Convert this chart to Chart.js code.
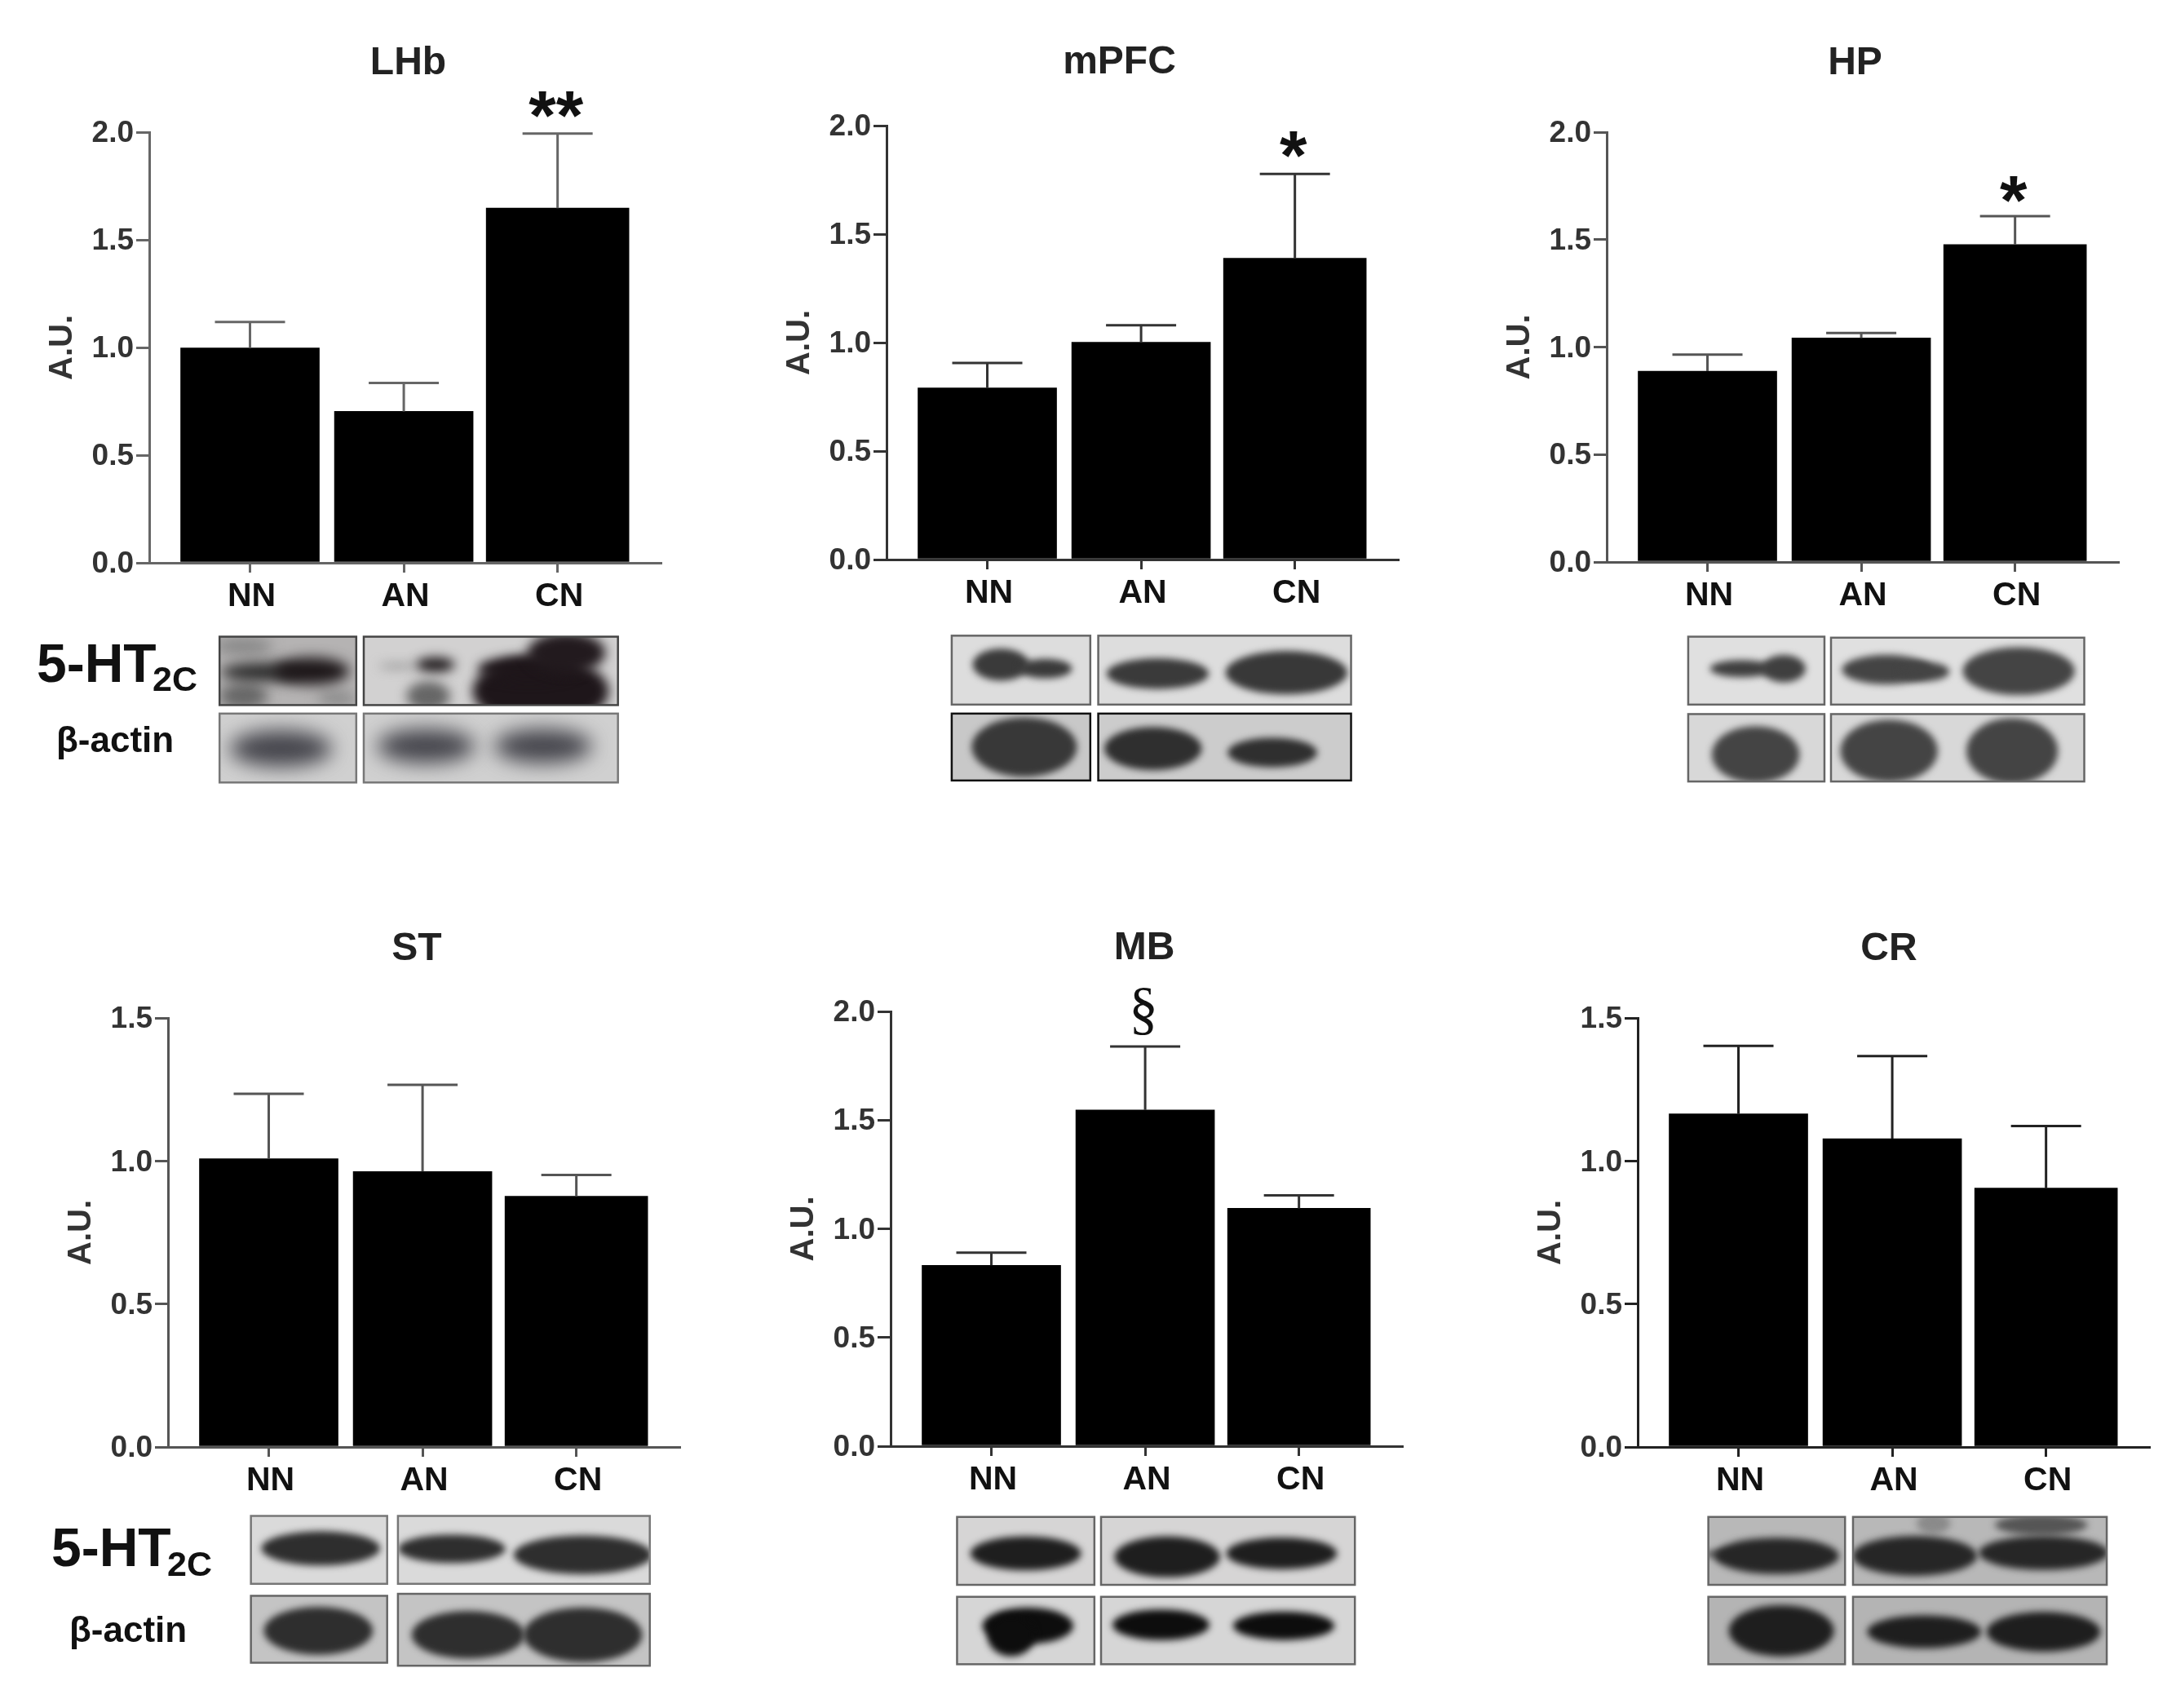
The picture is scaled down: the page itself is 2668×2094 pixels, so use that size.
<!DOCTYPE html>
<html>
<head>
<meta charset="utf-8">
<script src="https://cdn.jsdelivr.net/npm/chart.js@4"></script>
<style>
    html, body { margin: 0; padding: 0; background: #fff; }
    #page { position: relative; width: 2668px; height: 2094px; overflow: hidden; filter: blur(0.7px); }
    #page canvas { position: absolute; }
    .side-label { position: absolute; font-family: "Liberation Sans", Arial, sans-serif; font-weight: bold; color: #111; line-height: 1; white-space: nowrap; }
</style>
</head>
<body>
<div id="page"><canvas id="blots" width="2668" height="2094" style="left:0;top:0"></canvas></div>
<script>
// Chart data
const categories = ['NN', 'AN', 'CN'];
const panelNames = ['LHb', 'mPFC', 'HP', 'ST', 'MB', 'CR'];

const lhbValues = [0.998, 0.703, 1.647];
const lhbErrors = [1.118, 0.835, 1.993];
const mpfcValues = [0.791, 1.002, 1.389];
const mpfcErrors = [0.906, 1.080, 1.777];
const hpValues = [0.888, 1.042, 1.477];
const hpErrors = [0.965, 1.065, 1.609];
const stValues = [1.008, 0.963, 0.877];
const stErrors = [1.235, 1.266, 0.951];
const mbValues = [0.832, 1.547, 1.094];
const mbErrors = [0.890, 1.839, 1.154];
const crValues = [1.165, 1.078, 0.905];
const crErrors = [1.402, 1.367, 1.122];

const panelValues = [lhbValues, mpfcValues, hpValues, stValues, mbValues, crValues];
const panelErrors = [lhbErrors, mpfcErrors, hpErrors, stErrors, mbErrors, crErrors];
const panelMax = [2, 2, 2, 1.5, 2, 1.5];

// Layout of each panel: plot left, top, width, height, title centre x and y, axis colour
const panelLayout = [
    { left: 182.5, top: 162, width: 627, height: 528, titleX: 500, titleY: 78, axis: '#666' },
    { left: 1086.5, top: 154, width: 627, height: 532, titleX: 1372, titleY: 77, axis: '#333' },
    { left: 1969.5, top: 162, width: 627, height: 527, titleX: 2274, titleY: 78, axis: '#555' },
    { left: 206, top: 1247.5, width: 627, height: 526.5, titleX: 511, titleY: 1163, axis: '#555' },
    { left: 1092, top: 1240, width: 627, height: 533, titleX: 1403, titleY: 1163, axis: '#333' },
    { left: 2008, top: 1247.5, width: 627, height: 526.5, titleX: 2316, titleY: 1163, axis: '#222' }
];

// Significance marks above the error bars
const panelMarks = [
    { text: '**', cat: 2, dy: 7, font: 'bold 86px "Liberation Sans"' },
    { text: '*', cat: 2, dy: 7, font: 'bold 86px "Liberation Sans"' },
    { text: '*', cat: 2, dy: 10, font: 'bold 86px "Liberation Sans"' },
    null,
    { text: '§', cat: 1, dy: -23, font: '72px "Liberation Serif"' },
    null
];

const GUTTER_LEFT = 160;
const GUTTER_TOP = 130;
const GUTTER_RIGHT = 20;
const GUTTER_BOTTOM = 80;

// Draws the error bars, the significance marks and the panel title
const panelExtras = {
    id: 'panelExtras',
    afterDatasetsDraw(chart, args, opts) {
        const ctx = chart.ctx;
        const x = chart.scales.x;
        const y = chart.scales.y;
        ctx.save();
        ctx.strokeStyle = opts.color;
        ctx.lineWidth = 3;
        opts.errors.forEach((err, i) => {
            const px = x.getPixelForValue(i + 1);
            const topY = y.getPixelForValue(err);
            ctx.beginPath();
            ctx.moveTo(px, y.getPixelForValue(opts.values[i]));
            ctx.lineTo(px, topY);
            ctx.moveTo(px - 43, topY);
            ctx.lineTo(px + 43, topY);
            ctx.stroke();
        });
        ctx.fillStyle = '#111';
        ctx.textAlign = 'center';
        ctx.textBaseline = 'alphabetic';
        if (opts.mark) {
            ctx.font = opts.mark.font;
            ctx.fillText(opts.mark.text, x.getPixelForValue(opts.mark.cat + 1) - 2, y.getPixelForValue(opts.errors[opts.mark.cat]) + opts.mark.dy);
        }
        ctx.fillStyle = '#222';
        ctx.textBaseline = 'middle';
        ctx.font = 'bold 48px "Liberation Sans"';
        ctx.fillText(opts.title, opts.titleX, opts.titleY);
        ctx.restore();
    }
};

function buildPanel(index) {
    const box = panelLayout[index];
    const values = panelValues[index];
    const canvas = document.createElement('canvas');
    canvas.width = GUTTER_LEFT + box.width + GUTTER_RIGHT;
    canvas.height = GUTTER_TOP + box.height + GUTTER_BOTTOM;
    canvas.style.left = (box.left - GUTTER_LEFT) + 'px';
    canvas.style.top = (box.top - GUTTER_TOP) + 'px';
    document.getElementById('page').appendChild(canvas);

    new Chart(canvas.getContext('2d'), {
        type: 'bar',
        data: {
            datasets: categories.map((name, i) => ({
                label: name,
                data: [{ x: i + 1, y: values[i] }],
                backgroundColor: '#000',
                grouped: false,
                barThickness: i === 2 ? 175 : 170
            }))
        },
        options: {
            responsive: false,
            animation: false,
            layout: { padding: { top: GUTTER_TOP, right: GUTTER_RIGHT, left: 0, bottom: 0 } },
            plugins: {
                legend: { display: false },
                tooltip: { enabled: false },
                panelExtras: {
                    values: values,
                    errors: panelErrors[index],
                    mark: panelMarks[index],
                    color: box.axis,
                    title: panelNames[index],
                    titleX: box.titleX - (box.left - GUTTER_LEFT),
                    titleY: box.titleY - (box.top - GUTTER_TOP)
                }
            },
            scales: {
                x: {
                    type: 'linear',
                    offset: false,
                    min: 0.345,
                    max: 3.67,
                    afterBuildTicks: scale => { scale.ticks = categories.map((c, i) => ({ value: i + 1 })); },
                    afterFit: scale => { scale.height = GUTTER_BOTTOM; },
                    grid: { offset: false, drawOnChartArea: false, color: box.axis, lineWidth: 3, tickLength: 12 },
                    border: { color: box.axis, width: 3 },
                    ticks: {
                        autoSkip: false,
                        maxRotation: 0,
                        padding: 5,
                        labelOffset: 2,
                        color: '#111',
                        font: { family: '"Liberation Sans"', weight: 'bold', size: 41 },
                        callback: value => categories[value - 1]
                    }
                },
                y: {
                    min: 0,
                    max: panelMax[index],
                    afterFit: scale => { scale.width = GUTTER_LEFT; },
                    grid: { drawOnChartArea: false, color: box.axis, lineWidth: 3, tickLength: 16 },
                    border: { color: box.axis, width: 3 },
                    title: {
                        display: true,
                        text: 'A.U.',
                        color: '#333',
                        padding: { top: 30, bottom: 0 },
                        font: { family: '"Liberation Sans"', weight: 'bold', size: 40 }
                    },
                    ticks: {
                        stepSize: 0.5,
                        padding: 3,
                        labelOffset: 2,
                        color: '#333',
                        font: { family: '"Liberation Sans"', weight: 'bold', size: 37 },
                        callback: value => value.toFixed(1)
                    }
                }
            }
        },
        plugins: [panelExtras]
    });
}

// Western blot strips, in crop coordinates: box corners, background, bands [cx, cy, rx, ry, colour]
const blotCrops = [
    { ox: 0, oy: 30, kx: 0.574, boxes: [
        { r: [469, 1226, 761, 1363], bg: '#b5b3b3', border: '#444', blur: 8, bands: [[520, 1245, 60, 15, '#888'], [520, 1345, 50, 22, '#666'], [720, 1350, 40, 12, '#888'], [560, 1297, 85, 16, '#2c2c2c'], [665, 1295, 78, 24, '#1e181a']] },
        { r: [777, 1226, 1320, 1363], bg: '#d2d1d1', border: '#444', blur: 7, bands: [[850, 1285, 40, 4, '#888'], [930, 1282, 40, 13, '#1f1a1c'], [915, 1345, 45, 26, '#666'], [1155, 1335, 140, 60, '#1e161a'], [1130, 1290, 105, 22, '#1e161a'], [1210, 1258, 80, 36, '#221a1e']] },
        { r: [469, 1380, 761, 1518], bg: '#d0d0d0', border: '#777', blur: 12, bands: [[600, 1450, 105, 32, '#45454c']] },
        { r: [777, 1380, 1320, 1518], bg: '#d0d0d0', border: '#777', blur: 12, bands: [[910, 1445, 100, 30, '#45454c'], [1160, 1445, 100, 30, '#45454c']] }
    ] },
    { ox: 900, oy: 30, kx: 0.574, boxes: [
        { r: [465, 1224, 761, 1362], bg: '#dddddd', border: '#666', bands: [[570, 1282, 58, 28, '#3a3a3a'], [665, 1290, 55, 17, '#3a3a3a']] },
        { r: [778, 1224, 1318, 1362], bg: '#dddddd', border: '#666', bands: [[905, 1300, 105, 27, '#3a3a3a'], [1180, 1298, 125, 38, '#383838']] },
        { r: [465, 1380, 761, 1514], bg: '#c8c8c8', border: '#111', bands: [[620, 1447, 108, 52, '#383838']] },
        { r: [778, 1380, 1318, 1514], bg: '#cccccc', border: '#111', bands: [[895, 1450, 100, 38, '#2f2f2f'], [1150, 1458, 92, 26, '#2f2f2f']] }
    ] },
    { ox: 1768, oy: 30, kx: 0.574, boxes: [
        { r: [526, 1226, 817, 1362], bg: '#e0e0e0', border: '#666', bands: [[640, 1290, 65, 15, '#3f3f3f'], [730, 1290, 45, 24, '#3f3f3f']] },
        { r: [831, 1228, 1372, 1362], bg: '#e0e0e0', border: '#666', bands: [[950, 1292, 92, 26, '#444'], [1030, 1296, 52, 17, '#444'], [1232, 1295, 115, 42, '#444']] },
        { r: [526, 1381, 817, 1516], bg: '#d8d8d8', border: '#666', bands: [[670, 1462, 90, 50, '#444']] },
        { r: [831, 1381, 1372, 1516], bg: '#d8d8d8', border: '#666', bands: [[955, 1455, 100, 55, '#444'], [1218, 1455, 94, 58, '#444']] }
    ] },
    { ox: 0, oy: 1130, kx: 0.574, boxes: [
        { r: [536, 1190, 827, 1326], bg: '#dadada', border: '#777', bands: [[685, 1255, 122, 30, '#2e2e2e']] },
        { r: [850, 1190, 1388, 1326], bg: '#dadada', border: '#777', bands: [[965, 1256, 110, 25, '#2e2e2e'], [1245, 1268, 142, 34, '#2e2e2e']] },
        { r: [536, 1350, 827, 1484], bg: '#c4c4c4', border: '#666', bands: [[680, 1420, 112, 42, '#2e2e2e']] },
        { r: [850, 1346, 1388, 1490], bg: '#c4c4c4', border: '#666', bands: [[1000, 1428, 116, 42, '#2e2e2e'], [1245, 1428, 122, 48, '#2e2e2e']] }
    ] },
    { ox: 1000, oy: 1130, kx: 0.5102, boxes: [
        { r: [340, 1192, 670, 1328], bg: '#d6d5d5', border: '#666', bands: [[505, 1265, 128, 30, '#1e1e1e']] },
        { r: [686, 1192, 1296, 1328], bg: '#d6d5d5', border: '#666', bands: [[845, 1272, 122, 36, '#1e1e1e'], [1120, 1265, 128, 28, '#1e1e1e']] },
        { r: [340, 1352, 670, 1487], bg: '#d6d6d6', border: '#666', bands: [[510, 1410, 105, 32, '#0d0d0d'], [470, 1430, 55, 36, '#0d0d0d']] },
        { r: [686, 1352, 1296, 1487], bg: '#d6d6d6', border: '#666', bands: [[830, 1408, 112, 27, '#0d0d0d'], [1125, 1410, 117, 25, '#0d0d0d']] }
    ] },
    { ox: 1768, oy: 1130, kx: 0.574, boxes: [
        { r: [569, 1192, 861, 1328], bg: '#b8b8b8', border: '#666', bands: [[600, 1266, 40, 6, '#444'], [715, 1270, 128, 32, '#262626']] },
        { r: [878, 1192, 1420, 1328], bg: '#b8b8b8', border: '#666', bands: [[1280, 1208, 95, 18, '#555'], [1050, 1205, 35, 18, '#8a8a8a'], [1010, 1270, 128, 35, '#262626'], [1285, 1264, 133, 30, '#262626']] },
        { r: [569, 1352, 861, 1487], bg: '#b4b4b4', border: '#666', bands: [[725, 1420, 108, 45, '#1e1e1e']] },
        { r: [878, 1352, 1420, 1487], bg: '#b4b4b4', border: '#666', bands: [[1030, 1422, 117, 29, '#1e1e1e'], [1285, 1422, 117, 35, '#1e1e1e']] }
    ] }
];

function drawBlots() {
    const ctx = document.getElementById('blots').getContext('2d');
    const ky = 0.6122;
    blotCrops.forEach(crop => {
        const px = v => crop.ox + v * crop.kx;
        const py = v => crop.oy + v * ky;
        crop.boxes.forEach(box => {
            const x = px(box.r[0]);
            const y = py(box.r[1]);
            const w = (box.r[2] - box.r[0]) * crop.kx;
            const h = (box.r[3] - box.r[1]) * ky;
            ctx.save();
            ctx.beginPath();
            ctx.rect(x, y, w, h);
            ctx.clip();
            ctx.fillStyle = box.bg;
            ctx.fillRect(x, y, w, h);
            ctx.filter = 'blur(' + (box.blur || 4) + 'px)';
            box.bands.forEach(b => {
                ctx.fillStyle = b[4];
                ctx.beginPath();
                ctx.ellipse(px(b[0]), py(b[1]), b[2] * crop.kx * 1.04, b[3] * ky * 1.14, 0, 0, Math.PI * 2);
                ctx.fill();
            });
            ctx.restore();
            ctx.strokeStyle = box.border;
            ctx.lineWidth = 2.5;
            ctx.strokeRect(x, y, w, h);
        });
    });
}

// Row labels to the left of the blots: text, left, baseline, font size
const sideLabels = [
    ['5-HT', 45, 836, 66], ['2C', 187, 847, 43], ['β-actin', 69, 922, 44],
    ['5-HT', 63, 1920, 66], ['2C', 205, 1932, 43], ['β-actin', 85, 2013, 44]
];

function addSideLabels() {
    const page = document.getElementById('page');
    sideLabels.forEach(([text, left, baseline, size]) => {
        const el = document.createElement('div');
        el.className = 'side-label';
        el.textContent = text;
        el.style.left = left + 'px';
        el.style.top = (baseline - 0.8465 * size) + 'px';
        el.style.fontSize = size + 'px';
        page.appendChild(el);
    });
}

drawBlots();
addSideLabels();
panelNames.forEach((name, i) => buildPanel(i));
</script>
</body>
</html>
